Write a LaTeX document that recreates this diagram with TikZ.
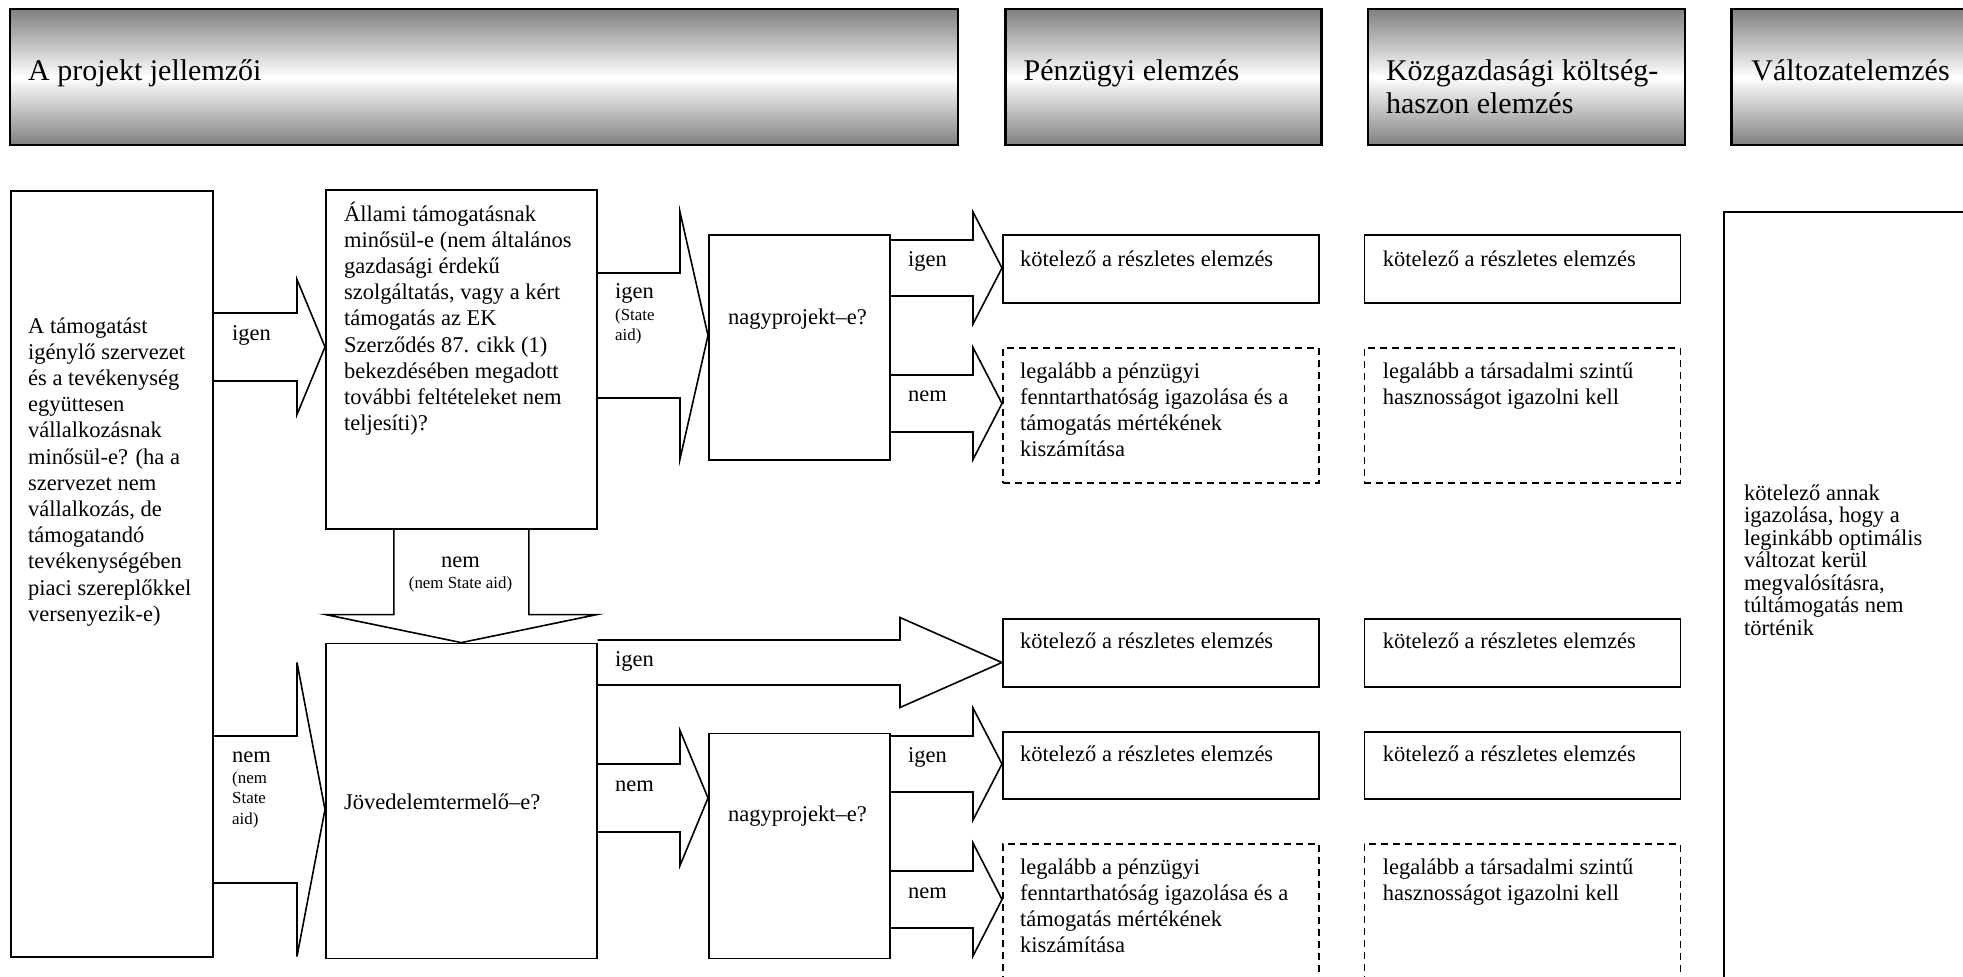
\documentclass[tikz,border=0pt]{standalone}
\usepackage{fontspec}
\setmainfont{Liberation Serif}
\usetikzlibrary{positioning, calc}

\newcommand{\blockarrow}[6]{%
  \draw[blk] (#1.east |- 0,#3-#4) -- ($(#2.west |- 0,#3-#4)-(#6,0)$)
    -- ($(#2.west |- 0,#3-#5)-(#6,0)$) -- (#2.west |- 0,#3)
    -- ($(#2.west |- 0,#3+#5)-(#6,0)$) -- ($(#2.west |- 0,#3+#4)-(#6,0)$)
    -- (#1.east |- 0,#3+#4);}
\newcommand{\txtlines}[1]{\begin{tabular}[t]{@{}l@{}}#1\end{tabular}}

\begin{document}
\begin{tikzpicture}[x=1pt, y=-1pt,
    hdr/.style={draw, line width=2.4pt, top color=gray, bottom color=gray, middle color=white,
      minimum height=136pt, inner sep=0pt, anchor=north west},
    box/.style={draw, line width=1.6pt, inner sep=0pt, anchor=north west},
    dbox/.style={box, dash pattern=on 7pt off 5pt},
    blk/.style={draw, line width=1.6pt, line join=miter},
    txt/.style={anchor=base west, inner sep=0pt, font=\fontsize{22.5}{26.2}\selectfont},
    htxt/.style={txt, font=\fontsize{30}{33}\selectfont},
    sml/.style={txt, font=\fontsize{16.9}{20.5}\selectfont}]
  \useasboundingbox (0,0) rectangle (1963,977);
  \clip (0,0) rectangle (1963,977);
  \fill[white] (0,0) rectangle (1963,977);

  \node[hdr, minimum width=948pt]                   (h1) at (9,8) {};
  \node[hdr, minimum width=316pt, right=45pt of h1] (h2) {};
  \node[hdr, minimum width=317pt, right=44pt of h2] (h3) {};
  \node[hdr, minimum width=317pt, right=44pt of h3] (h4) {};
  \node[htxt] (h1t) at ($(h1.north west)+(19,72)$) {A projekt jellemzői};
  \node[htxt] (h2t) at ($(h2.north west)+(19,72)$) {Pénzügyi elemzés};
  \node[htxt] (h3t) at ($(h3.north west)+(19,72)$) {\txtlines{Közgazdasági költség-\\haszon elemzés}};
  \node[htxt] (h4t) at ($(h4.north west)+(21,72)$) {Változatelemzés};

  \node[box, minimum width=202pt, minimum height=766pt] (q0) at (10,190) {};
  \node[box, minimum width=271pt, minimum height=339pt] (q1) at (325,189) {};
  \node[box, minimum width=271pt, minimum height=315pt, below=113pt of q1] (q2) {};
  \node[box, minimum width=181pt, minimum height=225pt] (n1) at (708,234) {};
  \node[box, minimum width=181pt, minimum height=225pt, below=272pt of n1] (n2) {};

  \node[box,  minimum width=316pt, minimum height=68pt]  (p1) at (1002,234) {};
  \node[dbox, minimum width=316pt, minimum height=135pt] (p2) at (1002,347) {};
  \node[box,  minimum width=316pt, minimum height=68pt]  (p3) at (1002,618) {};
  \node[box,  minimum width=316pt, minimum height=67pt]  (p4) at (1002,731) {};
  \node[dbox, minimum width=316pt, minimum height=160pt] (p5) at (1002,843) {};
  \node[box,  minimum width=316pt, minimum height=68pt,  right=44pt of p1] (k1) {};
  \node[dbox, minimum width=316pt, minimum height=135pt, right=44pt of p2] (k2) {};
  \node[box,  minimum width=316pt, minimum height=68pt,  right=44pt of p3] (k3) {};
  \node[box,  minimum width=316pt, minimum height=67pt,  right=44pt of p4] (k4) {};
  \node[dbox, minimum width=316pt, minimum height=160pt, right=44pt of p5] (k5) {};
  \node[box, minimum width=320pt, minimum height=800pt] (v1) at (1723,211) {};

  \node[txt] (q0t) at ($(q0.north west)+(18,143)$) {\txtlines{A támogatást\\igénylő szervezet\\és a tevékenység\\együttesen\\vállalkozásnak\\minősül-e? (ha a\\szervezet nem\\vállalkozás, de\\támogatandó\\tevékenységében\\piaci szereplőkkel\\versenyezik-e)}};
  \node[txt] (q1t) at ($(q1.north west)+(19,32)$) {\txtlines{Állami támogatásnak\\minősül-e (nem általános\\gazdasági érdekű\\szolgáltatás, vagy a kért\\támogatás az EK\\Szerződés 87. cikk (1)\\bekezdésében megadott\\további feltételeket nem\\teljesíti)?}};
  \node[txt] (q2t) at ($(q2.north west)+(19,167)$) {Jövedelemtermelő–e?};
  \node[txt] (n1t) at ($(n1.north west)+(20,90)$) {nagyprojekt–e?};
  \node[txt] (n2t) at ($(n2.north west)+(20,89)$) {nagyprojekt–e?};
  \node[txt] (p1t) at ($(p1.north west)+(18,32)$) {kötelező a részletes elemzés};
  \node[txt] (p2t) at ($(p2.north west)+(18,31)$) {\txtlines{legalább a pénzügyi\\fenntarthatóság igazolása és a\\támogatás mértékének\\kiszámítása}};
  \node[txt] (p3t) at ($(p3.north west)+(18,30)$) {kötelező a részletes elemzés};
  \node[txt] (p4t) at ($(p4.north west)+(18,30)$) {kötelező a részletes elemzés};
  \node[txt] (p5t) at ($(p5.north west)+(18,31)$) {\txtlines{legalább a pénzügyi\\fenntarthatóság igazolása és a\\támogatás mértékének\\kiszámítása}};
  \node[txt] (k1t) at ($(k1.north west)+(19,32)$) {kötelező a részletes elemzés};
  \node[txt] (k2t) at ($(k2.north west)+(19,31)$) {\txtlines{legalább a társadalmi szintű\\hasznosságot igazolni kell}};
  \node[txt] (k3t) at ($(k3.north west)+(19,30)$) {kötelező a részletes elemzés};
  \node[txt] (k4t) at ($(k4.north west)+(19,30)$) {kötelező a részletes elemzés};
  \node[txt] (k5t) at ($(k5.north west)+(19,31)$) {\txtlines{legalább a társadalmi szintű\\hasznosságot igazolni kell}};
  \node[txt, font=\fontsize{22.5}{22.5}\selectfont] (v1t) at ($(v1.north west)+(21,289)$) {\txtlines{kötelező annak\\igazolása, hogy a\\leginkább optimális\\változat kerül\\megvalósításra,\\túltámogatás nem\\történik}};

  \blockarrow{q0}{q1}{347}{34}{67.5}{28}
  \blockarrow{q0}{q2}{809.5}{73.5}{147}{28}
  \blockarrow{q1}{n1}{335.5}{62.5}{123.5}{28}
  \blockarrow{q2}{p3}{662.5}{22.5}{45}{102}
  \blockarrow{q2}{n2}{798}{34}{67.5}{28}
  \blockarrow{n1}{p1}{268}{28}{56}{29}
  \blockarrow{n1}{p2}{403.5}{28.5}{56}{29}
  \blockarrow{n2}{p4}{764}{28}{56}{29}
  \blockarrow{n2}{p5}{899.5}{28.5}{56.5}{29}
  \draw[blk] ($(q1.south)-(67.5,0)$) -- ($(q2.north)+(-67.5,-28)$) -- ($(q2.north)+(-135.5,-28)$)
    -- (q2.north) -- ($(q2.north)+(135.5,-28)$) -- ($(q2.north)+(67.5,-28)$) -- ($(q1.south)+(67.5,0)$);

  \node[txt] (a1) at (232,340) {igen};
  \node[txt] (a2) at (232,762) {nem};
  \node[sml] (a2s) at (232,783) {\txtlines{(nem\\State\\aid)}};
  \node[txt] (a3) at (615,298) {igen};
  \node[sml] (a3s) at (615,320) {\txtlines{(State\\aid)}};
  \node[txt, anchor=base] (a4) at (460.5,567) {nem};
  \node[sml, anchor=base] (a4s) at (460.5,588) {(nem State aid)};
  \node[txt] (a5) at (615,666) {igen};
  \node[txt] (a6) at (615,791) {nem};
  \node[txt] (a7) at (908,266) {igen};
  \node[txt] (a8) at (908,401) {nem};
  \node[txt] (a9) at (908,762) {igen};
  \node[txt] (a10) at (908,898) {nem};
\end{tikzpicture}
\end{document}
